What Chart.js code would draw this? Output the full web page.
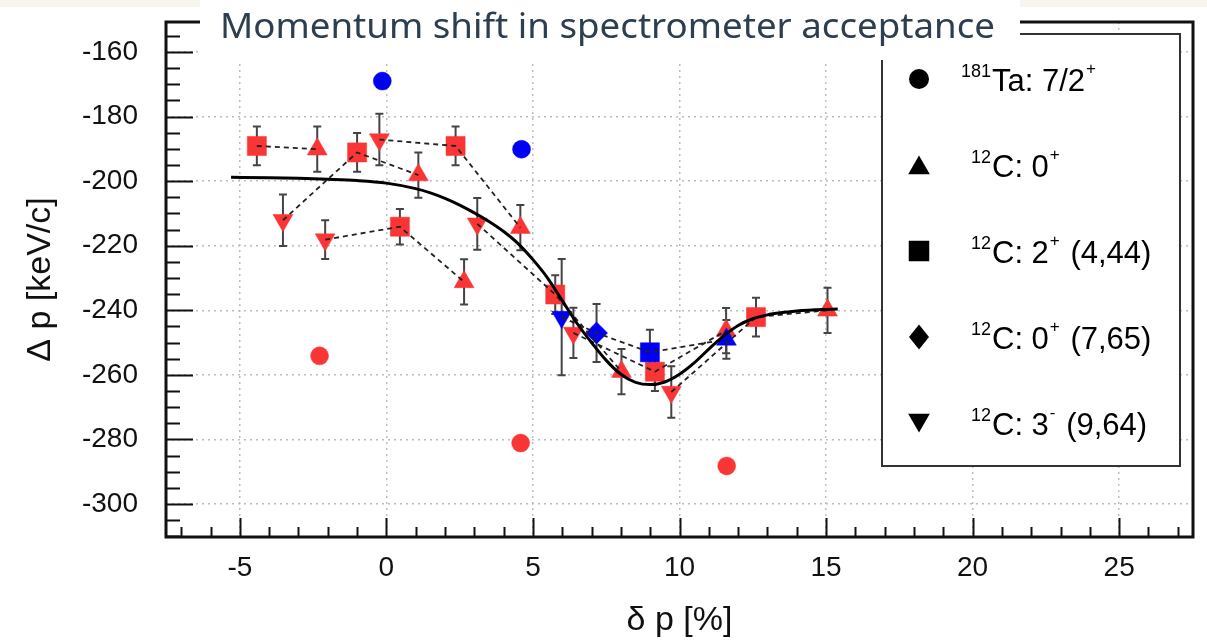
<!DOCTYPE html>
<html><head><meta charset="utf-8">
<script src="https://cdn.jsdelivr.net/npm/chart.js@4/dist/chart.umd.min.js"></script>
<style>
html,body{margin:0;padding:0;background:#fff;}
#wrap{position:relative;width:1207px;height:643px;overflow:hidden;}
#strip{position:absolute;left:0;top:0;width:1207px;height:7px;background:#f8f4ee;}
#c{position:absolute;left:0;top:0;}
</style></head><body>
<div id="wrap"><div id="strip"></div><canvas id="c" width="1207" height="643"></canvas></div>
<script>
// ---------------- data ----------------
const chartTitle = 'Momentum shift in spectrometer acceptance';
const xTitle = 'δ p [%]';
const yTitle = 'Δ p [keV/c]';

// 181Ta 7/2+ (circles)
const taBlueX = [-0.14, 4.61];
const taBlueY = [-169.0, -190.1];
const taRedX = [-2.28, 4.58, 11.61];
const taRedY = [-254.1, -281.1, -288.2];

// 12C 0+ ground state (up triangles)
const c0RedX = [-2.36, 1.09, 2.65, 4.57, 8.02, 11.59, 15.05];
const c0RedY = [-190.1, -198.1, -231.2, -214.4, -259.0, -246.3, -240.0];
const c0RedErr = [7, 7, 7, 7, 7, 7, 7];
// 12C 2+ 4.44 (squares)
const c2RedX = [-4.42, -1.00, 0.46, 2.36, 5.76, 9.16, 12.61];
const c2RedY = [-189.1, -191.1, -214.1, -189.1, -235.1, -259.0, -242.1];
const c2RedErr = [6, 6, 5.5, 6, 6, 6, 6];
// 12C 3- 9.64 (down triangles)
const c3RedX = [-3.53, -2.09, -0.24, 3.10, 6.38, 9.72];
const c3RedY = [-212.1, -218.1, -187.1, -213.2, -247.0, -265.3];
const c3RedErr = [8, 6, 8, 8, 7.8, 8];

// blue setting
const c3BlueX = [5.98];   const c3BlueY = [-242.1];  const c3BlueErr = [18];
const c765BlueX = [7.17]; const c765BlueY = [-247.0]; const c765BlueErr = [9];
const c2BlueX = [8.99];   const c2BlueY = [-253.0];  const c2BlueErr = [7];
const c0BlueX = [11.60];  const c0BlueY = [-249.0];  const c0BlueErr = [6];

// dashed connections (series key, index)
const chains = [
  [['c2r',0],['c0r',0]],
  [['c3r',0],['c2r',1],['c0r',1]],
  [['c3r',1],['c2r',2],['c0r',2]],
  [['c3r',2],['c2r',3],['c0r',3]],
  [['c3r',3],['c2r',4],['c0r',4]],
  [['c3r',4],['c2r',5],['c0r',5]],
  [['c3r',5],['c2r',6],['c0r',6]],
  [['c3b',0],['c765b',0],['c2b',0],['c0b',0]]
];

// fit curve
const fitX = [-5.3,-4,-3,-2,-1,0,1,1.5,2,2.5,3,3.5,4,4.5,5,5.5,6,6.5,7,7.5,8,8.5,9,9.5,10,10.5,11,11.5,12,12.5,13,13.5,14,15.4];
const fitY = [-198.8,-198.9,-199.1,-199.4,-199.8,-200.6,-202.3,-203.6,-205.3,-207.4,-209.8,-212.5,-215.6,-219.4,-224.3,-230,-237,-244,-250,-255.5,-259.8,-262.3,-263,-262.2,-259.8,-256.3,-252,-248,-244.7,-242.6,-241.4,-240.7,-240.2,-239.6];

const xTickStep = 5, yTickStep = 20;

const legendEntries = [
  {style:'circle',   rot:0,   pre:'181', main:'Ta: 7/2', sup:'+', post:''},
  {style:'triangle', rot:0,   pre:'12',  main:'C: 0',    sup:'+', post:''},
  {style:'rect',     rot:0,   pre:'12',  main:'C: 2',    sup:'+', post:' (4,44)'},
  {style:'rectRot',  rot:0,   pre:'12',  main:'C: 0',    sup:'+', post:' (7,65)'},
  {style:'triangle', rot:180, pre:'12',  main:'C: 3',    sup:'-', post:' (9,64)'}
];

// ---------------- build ----------------
const RED = '#fa3535', BLUE = '#0000f5';
const zip = (xs, ys) => xs.map((x, i) => ({x, y: ys[i]}));
const series = {
  c0r: {x:c0RedX, y:c0RedY, e:c0RedErr},
  c2r: {x:c2RedX, y:c2RedY, e:c2RedErr},
  c3r: {x:c3RedX, y:c3RedY, e:c3RedErr},
  c3b: {x:c3BlueX, y:c3BlueY, e:c3BlueErr},
  c765b: {x:c765BlueX, y:c765BlueY, e:c765BlueErr},
  c2b: {x:c2BlueX, y:c2BlueY, e:c2BlueErr},
  c0b: {x:c0BlueX, y:c0BlueY, e:c0BlueErr}
};

function markerDs(label, xs, ys, color, style, r, rot, order, errs) {
  return {label, data: zip(xs, ys), showLine:false, pointStyle:style, pointRadius:r,
    pointRotation:rot, backgroundColor:color, borderColor:color, pointBorderWidth:0.5,
    order, errs: errs || null};
}

const datasets = [
  {label:'fit', data: zip(fitX, fitY), showLine:true, pointRadius:0, borderColor:'#000',
   borderWidth:3, cubicInterpolationMode:'monotone', fill:false, order:0}
];
chains.forEach((ch, i) => {
  datasets.push({label:'chain'+i, data: ch.map(([k, j]) => ({x: series[k].x[j], y: series[k].y[j]})),
    showLine:true, pointRadius:0, borderColor:'#222', borderWidth:1.8, borderDash:[5,4],
    tension:0, fill:false, order:1});
});
datasets.push(markerDs('c3b', c3BlueX, c3BlueY, BLUE, 'triangle', 11.5, 180, 2, c3BlueErr));
datasets.push(markerDs('c765b', c765BlueX, c765BlueY, BLUE, 'rectRot', 11, 0, 2, c765BlueErr));
datasets.push(markerDs('c2b', c2BlueX, c2BlueY, BLUE, 'rect', 13.5, 0, 2, c2BlueErr));
datasets.push(markerDs('c0b', c0BlueX, c0BlueY, BLUE, 'triangle', 11.5, 0, 2, c0BlueErr));
datasets.push(markerDs('taB', taBlueX, taBlueY, BLUE, 'circle', 9, 0, 2, null));
datasets.push(markerDs('c0r', c0RedX, c0RedY, RED, 'triangle', 11.5, 0, 3, c0RedErr));
datasets.push(markerDs('c2r', c2RedX, c2RedY, RED, 'rect', 13.5, 0, 3, c2RedErr));
datasets.push(markerDs('c3r', c3RedX, c3RedY, RED, 'triangle', 11.5, 180, 3, c3RedErr));
datasets.push(markerDs('taR', taRedX, taRedY, RED, 'circle', 9, 0, 3, null));

// ---------------- plugins ----------------
const errorBars = {
  id:'errorBars',
  beforeDatasetsDraw(chart) {
    const {ctx, scales:{x, y}} = chart;
    ctx.save();
    ctx.strokeStyle = '#444'; ctx.lineWidth = 2;
    chart.data.datasets.forEach(ds => {
      if (!ds.errs) return;
      ds.data.forEach((p, i) => {
        const px = x.getPixelForValue(p.x);
        const y1 = y.getPixelForValue(p.y + ds.errs[i]);
        const y2 = y.getPixelForValue(p.y - ds.errs[i]);
        ctx.beginPath();
        ctx.moveTo(px, y1); ctx.lineTo(px, y2);
        ctx.moveTo(px - 4, y1); ctx.lineTo(px + 4, y1);
        ctx.moveTo(px - 4, y2); ctx.lineTo(px + 4, y2);
        ctx.stroke();
      });
    });
    ctx.restore();
  }
};

function shape(ctx, style, r, rot, cx, cy) {
  ctx.beginPath();
  const rad = rot * Math.PI / 180;
  if (style === 'circle') { ctx.arc(cx, cy, r, 0, Math.PI * 2); }
  else if (style === 'triangle') {
    let a = rad;
    ctx.moveTo(cx + Math.sin(a) * r, cy - Math.cos(a) * r);
    a += 2 * Math.PI / 3; ctx.lineTo(cx + Math.sin(a) * r, cy - Math.cos(a) * r);
    a += 2 * Math.PI / 3; ctx.lineTo(cx + Math.sin(a) * r, cy - Math.cos(a) * r);
    ctx.closePath();
  } else if (style === 'rect') {
    const s = Math.SQRT1_2 * r; ctx.rect(cx - s, cy - s, 2 * s, 2 * s);
  } else if (style === 'rectRot') {
    ctx.moveTo(cx - r * 0.8, cy); ctx.lineTo(cx, cy - r); ctx.lineTo(cx + r * 0.8, cy); ctx.lineTo(cx, cy + r); ctx.closePath();
  }
  ctx.fill();
}

const decor = {
  id:'decor',
  afterDraw(chart) {
    const {ctx, chartArea:ca, scales:{x, y}} = chart;
    ctx.save();
    // inward ticks
    ctx.strokeStyle = '#111'; ctx.lineWidth = 2;
    ctx.beginPath();
    for (let v = Math.ceil(x.min); v <= x.max; v++) {
      const px = Math.round(x.getPixelForValue(v)) + 0.5;
      const len = (v % xTickStep === 0) ? 19 : 10;
      ctx.moveTo(px, ca.bottom); ctx.lineTo(px, ca.bottom - len);
    }
    for (let v = Math.ceil(y.min / 5) * 5; v <= y.max; v += 5) {
      const py = Math.round(y.getPixelForValue(v)) + 0.5;
      const len = (v % yTickStep === 0) ? 27 : 14;
      ctx.moveTo(ca.left, py); ctx.lineTo(ca.left + len, py);
    }
    ctx.stroke();
    // frame
    ctx.strokeStyle = '#111'; ctx.lineWidth = 3;
    ctx.strokeRect(ca.left, ca.top, ca.right - ca.left, ca.bottom - ca.top);

    // legend box
    const lx = 882, ly = 34, lw = 298, lh = 432;
    ctx.fillStyle = '#fff'; ctx.fillRect(lx, ly, lw, lh);
    ctx.strokeStyle = '#333'; ctx.lineWidth = 2;
    ctx.strokeRect(lx, ly, lw, lh);
    const mainFont = '31px "Liberation Sans", Arial, sans-serif';
    const supFont = '18px "Liberation Sans", Arial, sans-serif';
    const signFont = '17px "Liberation Sans", Arial, sans-serif';
    legendEntries.forEach((e, i) => {
      const cy = 79 + i * 86;
      ctx.fillStyle = '#000';
      const rr = e.style === 'circle' ? 10 : e.style === 'rect' ? 14.5 : 12.5;
      shape(ctx, e.style, rr, e.rot, 919, e.rot === 180 ? cy - 3 : (e.style === 'triangle' ? cy + 3 : cy));
      const base = cy + 12;
      const tx = 992;
      ctx.textBaseline = 'alphabetic';
      ctx.font = supFont; ctx.textAlign = 'right';
      ctx.fillText(e.pre, tx - 1, base - 14);
      ctx.textAlign = 'left';
      ctx.font = mainFont; ctx.fillText(e.main, tx, base);
      let w = ctx.measureText(e.main).width;
      ctx.font = signFont; ctx.fillText(e.sup, tx + w + 1, base - 17);
      const ws = ctx.measureText(e.sup).width;
      ctx.font = mainFont; ctx.fillText(e.post, tx + w + ws + 3, base);
    });

    // title box
    ctx.fillStyle = '#fff';
    ctx.fillRect(200, 0, 820, 60);
    ctx.fillStyle = '#2c3e50';
    ctx.font = '35px "Noto Sans", "Open Sans", sans-serif';
    ctx.textAlign = 'left'; ctx.textBaseline = 'alphabetic';
    const tw = ctx.measureText(chartTitle).width;
    ctx.translate(220, 38);
    ctx.scale(775 / tw, 1);
    ctx.fillText(chartTitle, 0, 0);
    ctx.restore();
  }
};

Chart.defaults.font.family = '"Liberation Sans", Arial, sans-serif';
Chart.defaults.color = '#111';

new Chart(document.getElementById('c'), {
  type:'scatter',
  data:{datasets},
  options:{
    responsive:false, animation:false, devicePixelRatio:1, events:[],
    layout:{padding:{left:0, right:10, top:22, bottom:0}},
    plugins:{legend:{display:false}, tooltip:{enabled:false}, title:{display:false}},
    scales:{
      x:{type:'linear', min:-7.52, max:27.52,
         ticks:{stepSize:xTickStep, includeBounds:false, autoSkip:false, maxRotation:0,
                font:{size:28}, color:'#111', padding:14},
         grid:{color:'#bdbdbd', lineWidth:1.5, drawTicks:false},
         border:{display:false, dash:[2,4]},
         title:{display:true, text:xTitle, font:{size:34}, color:'#111', padding:{top:0, bottom:2}},
         afterFit(s){ s.height = 106; s.paddingLeft = 0; s.paddingRight = 0; }},
      y:{type:'linear', min:-310.2, max:-150.7,
         ticks:{stepSize:yTickStep, includeBounds:false, autoSkip:false,
                font:{size:28}, color:'#111', padding:28},
         grid:{color:'#bdbdbd', lineWidth:1.5, drawTicks:false},
         border:{display:false, dash:[2,4]},
         title:{display:true, text:yTitle, font:{size:34}, color:'#111', padding:{top:20, bottom:0}},
         afterFit(s){ s.width = 166; s.paddingTop = 0; s.paddingBottom = 0; }}
    }
  },
  plugins:[errorBars, decor]
});
</script>
</body></html>
